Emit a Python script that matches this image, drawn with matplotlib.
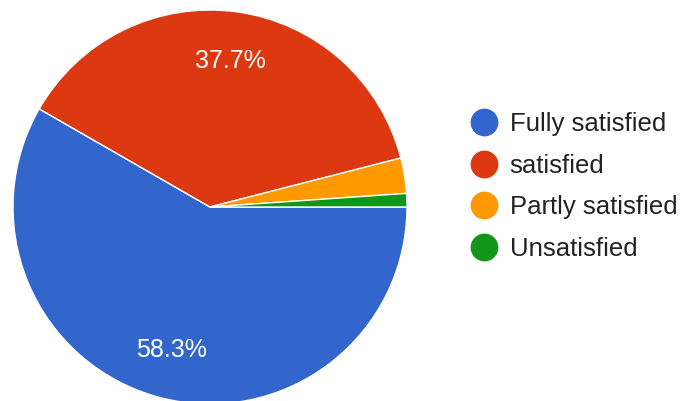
import matplotlib
matplotlib.use('Agg')
import matplotlib.pyplot as plt
from matplotlib.lines import Line2D

# data
labels = ['Fully satisfied', 'satisfied', 'Partly satisfied', 'Unsatisfied']
shares = [58.3, 37.7, 2.9, 1.1]
colors = ['#3366cc', '#dc3912', '#ff9900', '#109618']

plt.rcParams['font.family'] = ['Liberation Sans', 'DejaVu Sans']

W, H = 683, 401
fig = plt.figure(figsize=(W / 100, H / 100), dpi=100)

# pie axes: centre (210, 207) px from top-left, radius 197 px
cx, cy, r = 210, 207, 197
ax = fig.add_axes([(cx - r) / W, (H - cy - r) / H, 2 * r / W, 2 * r / H])


def pct_label(p):
    # only the big slices get a label
    return f'{p:.1f}%' if p > 5 else ''


wedges, texts, autotexts = ax.pie(
    shares, colors=colors, startangle=0, counterclock=False,
    autopct=pct_label, pctdistance=0.75,
    wedgeprops=dict(edgecolor='white', linewidth=1.0),
    textprops=dict(color='white', fontsize=18))
ax.set_xlim(-1, 1)
ax.set_ylim(-1, 1)
ax.set_aspect('equal')
ax.axis('off')

# legend with round markers
handles = [Line2D([], [], marker='o', linestyle='none', markersize=19,
                  markerfacecolor=c, markeredgecolor=c) for c in colors]
fig.legend(handles, labels, loc='center left', bbox_to_anchor=(0.652, 0.535),
           frameon=False, fontsize=18.5, labelcolor='#222222',
           handletextpad=0.0, labelspacing=0.68, borderpad=0)

fig.savefig('out.png', dpi=100)
